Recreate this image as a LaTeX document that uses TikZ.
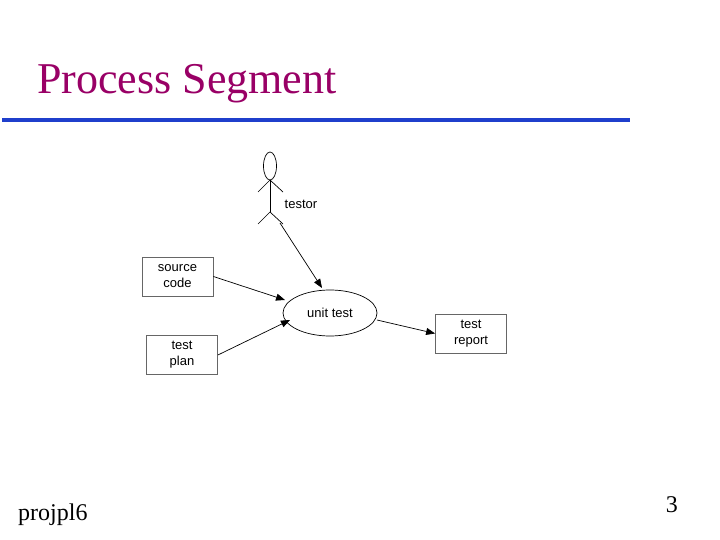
\documentclass[tikz,border=0pt]{standalone}
\usepackage{fontspec}
\setmainfont{Liberation Serif}
\newfontfamily\arialf{Liberation Sans}
\usetikzlibrary{arrows.meta,shapes.geometric}
\definecolor{ttl}{HTML}{990066}
\definecolor{bline}{HTML}{1F3FCC}
\begin{document}
\begin{tikzpicture}[x=1pt,y=-1pt,
  box/.style={draw=black!60,line width=0.8pt,minimum width=71pt,minimum height=39pt,font=\arialf\fontsize{13}{16}\selectfont,align=center,inner sep=0pt},
  conn/.style={-{Triangle[length=9pt,width=7pt]},line width=0.7pt},
  fig/.style={line width=0.7pt}]
\useasboundingbox (0,0) rectangle (720,540);
\node[anchor=base west,text=ttl,font=\fontsize{44}{48}\selectfont,inner sep=0pt] (title) at (37,94) {Process Segment};
\draw[bline,line width=4pt] (2,120) coordinate (l1) -- (630,120) coordinate (l2);
% actor
\draw[fig] (270,166) ellipse [x radius=6.5, y radius=14];
\draw[fig] (270,180) -- (270,212);
\draw[fig] (258,192) -- (270,180) -- (283,192);
\draw[fig] (258,224) -- (270,212) -- (283,224);
\coordinate (actor) at (280,223);
\node[font=\arialf\fontsize{13}{16}\selectfont,inner sep=0pt] (testor) at (301,204) {testor};
\node[box] (src) at (177.5,276.5) {source\\code};
\node[box] (plan) at (182,355) {test\\plan};
\node[box] (rep) at (471,333.5) {test\\report};
\node[draw,ellipse,line width=0.7pt,minimum width=94pt,minimum height=46pt,inner sep=0pt,font=\arialf\fontsize{13}{16}\selectfont] (ut) at (330,313) {unit test};
\draw[conn] (actor) -- (322,288) coordinate (a1);
\draw[conn] (src.east) -- (285,300);
\draw[conn] (plan.east) -- (290,320);
\draw[conn] (377,320) -- (rep.west);
\node[anchor=base west,font=\fontsize{24}{28}\selectfont,inner sep=0pt] (foot) at (18,520) {projpl6};
\node[anchor=base east,font=\fontsize{24}{28}\selectfont,inner sep=0pt] (num) at (678,512) {3};
\end{tikzpicture}
\end{document}
